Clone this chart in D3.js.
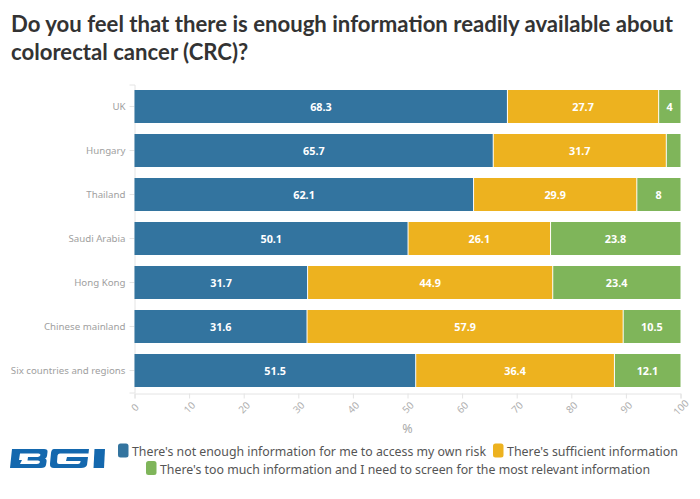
<!DOCTYPE html>
<html><head><meta charset="utf-8">
<script src="https://cdn.jsdelivr.net/npm/d3@7"></script>
<style>html,body{margin:0;padding:0;background:#fff}svg{display:block}text{font-family:"Noto Sans",sans-serif}</style>
</head><body><svg id="c" width="700" height="499"></svg>
<script>
const categories=["UK","Hungary","Thailand","Saudi Arabia","Hong Kong","Chinese mainland","Six countries and regions"];
const notEnough=[68.3,65.7,62.1,50.1,31.7,31.6,51.5];
const sufficient=[27.7,31.7,29.9,26.1,44.9,57.9,36.4];
const tooMuch=[4,2.6,8,23.8,23.4,10.5,12.1];
const hideLabel=[false,true,false,false,false,false,false];
const seriesNames=["There's not enough information for me to access my own risk","There's sufficient information","There's too much information and I need to screen for the most relevant information"];
const colors=["#33749f","#edb21f","#7fb55a"];
const tickValues=[0,10,20,30,40,50,60,70,80,90,100];
const svg=d3.select("#c");
const title=svg.append("g").attr("font-weight",700).attr("font-size",22.15).attr("fill","#333");
title.append("text").attr("x",11).attr("y",32).style("font-family","Lato,sans-serif").text("Do you feel that there is enough information readily available about");
title.append("text").attr("x",11).attr("y",60).style("font-family","Lato,sans-serif").text("colorectal cancer (CRC)?");
const x=d3.scaleLinear().domain([0,100]).range([134.5,680.5]);
const y=d3.scaleBand().domain(categories).range([84.5,392.5]).paddingInner(0.25).paddingOuter(0.125);
const rows=categories.map((c,i)=>({c,v:[notEnough[i],sufficient[i],tooMuch[i]],hide:hideLabel[i]}));
const stack=d3.stack().keys([0,1,2]).value((d,k)=>d.v[k])(rows);
const xg=svg.append("g").attr("transform","translate(0,393.5)").call(d3.axisBottom(x).tickValues(tickValues).tickSize(5).tickPadding(3));
xg.select(".domain").attr("stroke","#e4e4e4");
xg.selectAll(".tick line").attr("stroke","#e4e4e4");
xg.selectAll("text").attr("fill","#b0b0b0").attr("font-size",10).attr("text-anchor","middle").attr("x",0).attr("y",14).attr("dy","0.35em")
  .attr("transform","rotate(-45,0,14)").style("font-family",'"Noto Sans",sans-serif');
const yg=svg.append("g").attr("transform","translate(134.5,0)").call(d3.axisLeft(y).tickSize(5).tickPadding(4));
yg.select(".domain").attr("stroke","#e4e4e4");
yg.selectAll(".tick line").attr("stroke","#e4e4e4");
yg.selectAll("text").attr("fill","#a0a0a0").attr("font-size",9.7).style("font-family",'"Noto Sans",sans-serif');
stack.forEach((s,k)=>{
  const g=svg.append("g");
  g.selectAll("rect").data(s).join("rect")
    .attr("x",d=>x(d[0])+(k?0.5:0)).attr("y",d=>y(d.data.c))
    .attr("width",d=>x(d[1])-x(d[0])-(k?0.5:0)-(k<2?0.5:0)).attr("height",y.bandwidth()).attr("fill",colors[k]);
  g.selectAll("text").data(s.filter(d=>!(k===2&&d.data.hide))).join("text")
    .attr("x",d=>(x(d[0])+x(d[1]))/2).attr("y",d=>y(d.data.c)+y.bandwidth()/2+4)
    .attr("text-anchor","middle").attr("font-size",10.8).attr("font-weight",700).attr("fill","#fff")
    .text(d=>d.data.v[k]);
});
svg.append("text").attr("x",407.5).attr("y",433).attr("text-anchor","middle").attr("font-size",12.5).attr("fill","#aaa").text("%");
const legend=[{n:0,sx:118,tx:132,ty:456,tl:354},{n:1,sx:493,tx:507,ty:456,tl:171},{n:2,sx:146,tx:160,ty:473.5,tl:490}];
const lg=svg.append("g");
legend.forEach(l=>{
  lg.append("rect").attr("x",l.sx).attr("y",l.ty-12.5).attr("width",10.5).attr("height",14).attr("rx",2.5).attr("fill",colors[l.n]);
  lg.append("text").attr("x",l.tx).attr("y",l.ty).attr("font-size",13.2).attr("fill","#555").attr("textLength",l.tl).attr("lengthAdjust","spacingAndGlyphs").text(seriesNames[l.n]);
});
const logo=svg.append("g").attr("fill","#1468ae");
logo.append("path").attr("fill-rule","evenodd").attr("d","M12,449 H44 Q48,449 47.5,452 L47,456 Q46.5,458 45,458.5 Q47,459 46.5,462 L46,465 Q45.5,468 41,468 H10 Z M20,453.5 L19,460 H22 L20,464 H37 Q39.5,464 40,462 Q40,460.5 38,460.5 H27.5 L28,457 H38 Q40,456.5 40.5,455 Q40.5,453.5 38.5,453.5 Z");
logo.append("path").attr("d","M54,449 H89 L88.5,453.5 H60 Q58,453.5 57.5,455.5 L57,462 Q57,464 59,464 H78 Q80,464 80.5,462 L80.5,461 H66 L67,457 H88 L87,465 Q86,468 81,468 H54 Q49.5,468 50,463.5 L51,453 Q51.5,449 54,449 Z");
logo.append("path").attr("d","M94.5,449 H105 L104,468 H93.5 Z");
</script></body></html>
